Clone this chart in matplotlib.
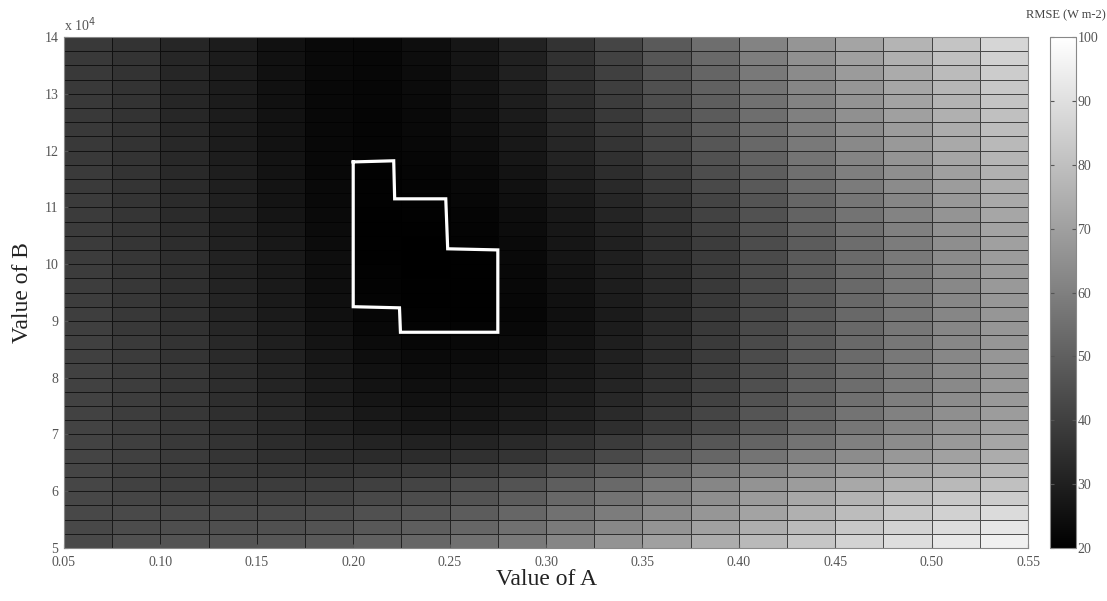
import numpy as np
import matplotlib
matplotlib.use("Agg")
import matplotlib.pyplot as plt

plt.rcParams['font.family'] = ['Liberation Serif', 'DejaVu Serif']

# parameter grid (cell edges)
a_edges = np.arange(0.05, 0.55 + 1e-9, 0.025)
b_edges = np.arange(5.0e4, 14.0e4 + 1, 2500)

# RMSE (W m-2) per cell, rows from B = 5.0e4 (bottom) to 14.0e4 (top)
rmse = np.array([
    [43.0, 45.0, 46.0, 46.5, 47.0, 48.0, 50.0, 52.0, 55.0, 58.0, 62.0, 66.0, 70.0, 74.0, 78.0, 82.0, 86.0, 89.5, 92.5, 95.0],
    [42.8, 44.0, 44.5, 44.8, 45.0, 46.0, 47.5, 49.5, 52.0, 55.0, 58.5, 62.5, 66.5, 70.5, 74.5, 78.5, 82.5, 86.0, 89.0, 92.0],
    [42.5, 43.0, 43.0, 43.0, 43.0, 43.5, 45.0, 46.5, 49.0, 52.0, 55.5, 59.0, 63.0, 67.0, 71.0, 75.0, 79.0, 82.5, 85.5, 88.5],
    [42.2, 41.8, 41.2, 41.0, 40.8, 41.2, 42.5, 44.0, 46.0, 49.0, 52.5, 56.0, 60.0, 64.5, 68.5, 72.5, 76.0, 79.5, 82.5, 84.0],
    [42.0, 40.5, 39.5, 39.0, 38.8, 39.0, 40.0, 41.5, 43.5, 46.0, 49.5, 53.0, 57.5, 62.0, 66.0, 69.0, 72.5, 75.5, 78.0, 80.0],
    [41.8, 40.2, 39.0, 37.8, 36.8, 36.5, 37.0, 38.0, 39.5, 41.8, 45.0, 48.5, 53.0, 57.5, 61.5, 65.0, 68.5, 71.5, 74.0, 77.0],
    [41.5, 40.0, 38.5, 36.8, 35.2, 34.0, 33.5, 34.0, 35.0, 36.5, 39.5, 43.0, 47.5, 52.0, 56.5, 60.5, 64.0, 67.5, 70.5, 74.0],
    [41.2, 39.8, 38.0, 36.0, 34.0, 32.2, 31.0, 30.5, 31.2, 33.0, 35.5, 38.5, 42.5, 47.0, 51.5, 56.0, 60.0, 64.0, 68.0, 72.0],
    [41.0, 39.5, 37.5, 35.0, 33.0, 30.5, 28.5, 27.5, 28.0, 29.5, 31.5, 34.5, 38.5, 43.0, 48.0, 52.5, 57.0, 61.5, 66.0, 70.0],
    [40.9, 39.3, 37.4, 34.8, 32.5, 29.8, 27.6, 26.5, 26.8, 28.2, 30.2, 33.2, 37.2, 41.8, 46.8, 51.5, 56.0, 60.5, 64.8, 69.0],
    [40.8, 39.2, 37.3, 34.5, 32.0, 29.0, 26.8, 25.5, 26.0, 27.3, 29.2, 32.2, 36.2, 40.8, 45.8, 50.5, 55.0, 59.5, 63.8, 68.0],
    [40.6, 39.1, 37.1, 34.2, 31.5, 28.5, 26.2, 24.7, 25.2, 26.4, 28.3, 31.3, 35.3, 39.8, 44.8, 49.7, 54.2, 58.7, 63.0, 67.5],
    [40.5, 39.0, 37.0, 34.0, 31.0, 28.0, 25.5, 24.0, 24.5, 25.5, 27.5, 30.5, 34.5, 39.0, 44.0, 49.0, 53.5, 58.0, 62.5, 67.0],
    [40.2, 38.6, 36.5, 33.4, 30.4, 27.2, 24.6, 23.2, 23.5, 24.6, 26.9, 30.0, 34.0, 38.6, 43.6, 48.6, 53.2, 57.7, 62.3, 67.0],
    [40.0, 38.2, 36.0, 32.8, 29.8, 26.4, 23.6, 22.4, 22.5, 23.6, 26.2, 29.4, 33.5, 38.2, 43.2, 48.2, 53.0, 57.4, 62.2, 67.0],
    [39.8, 37.8, 35.5, 32.1, 29.1, 25.7, 22.8, 21.5, 21.5, 22.8, 25.6, 28.9, 33.0, 37.9, 42.9, 47.9, 52.7, 57.2, 62.1, 67.0],
    [39.5, 37.5, 35.0, 31.5, 28.5, 25.0, 22.0, 20.8, 20.6, 22.0, 25.0, 28.5, 32.5, 37.5, 42.5, 47.5, 52.5, 57.0, 62.0, 67.0],
    [39.3, 37.4, 34.8, 31.3, 28.4, 24.8, 21.5, 20.6, 20.5, 22.2, 25.4, 28.8, 32.8, 37.7, 42.7, 47.7, 52.7, 57.2, 62.3, 67.4],
    [39.1, 37.2, 34.7, 31.1, 28.3, 24.6, 21.1, 20.4, 20.5, 22.5, 25.8, 29.1, 33.1, 37.9, 42.9, 47.9, 52.9, 57.5, 62.7, 67.9],
    [39.0, 37.0, 34.5, 30.9, 28.1, 24.5, 20.8, 20.3, 20.5, 22.7, 26.2, 29.4, 33.4, 38.0, 43.0, 48.0, 53.1, 57.7, 63.1, 68.4],
    [38.8, 36.9, 34.4, 30.7, 28.0, 24.4, 20.5, 20.2, 20.6, 23.0, 26.6, 29.7, 33.8, 38.2, 43.2, 48.2, 53.3, 58.0, 63.5, 69.0],
    [38.7, 36.8, 34.2, 30.5, 27.6, 24.0, 20.4, 20.3, 21.0, 23.4, 27.0, 30.3, 34.5, 39.0, 44.0, 49.0, 54.2, 59.0, 64.5, 70.0],
    [38.6, 36.7, 34.0, 30.3, 27.2, 23.6, 20.5, 20.5, 21.4, 23.9, 27.4, 30.9, 35.2, 39.9, 44.8, 50.0, 55.1, 60.0, 65.5, 71.0],
    [38.5, 36.6, 33.7, 30.2, 26.8, 23.3, 20.6, 20.7, 21.8, 24.3, 27.8, 31.4, 35.8, 40.7, 45.6, 51.0, 56.0, 61.0, 66.5, 72.0],
    [38.5, 36.5, 33.5, 30.0, 26.5, 23.0, 20.8, 20.9, 22.2, 24.8, 28.2, 32.0, 36.5, 41.5, 46.5, 52.0, 57.0, 62.0, 67.5, 73.0],
    [38.4, 36.4, 33.3, 29.7, 26.3, 22.9, 20.9, 21.3, 22.8, 25.5, 29.2, 33.1, 37.7, 42.9, 48.0, 53.5, 58.5, 63.5, 68.9, 74.2],
    [38.2, 36.2, 33.0, 29.5, 26.1, 22.7, 20.9, 21.6, 23.4, 26.2, 30.1, 34.2, 39.0, 44.2, 49.3, 54.8, 59.8, 64.8, 70.2, 75.5],
    [38.1, 36.1, 32.8, 29.2, 26.0, 22.6, 21.3, 22.1, 24.0, 26.9, 31.0, 35.3, 40.2, 45.6, 50.9, 56.4, 61.4, 66.4, 71.6, 76.8],
    [38.0, 36.0, 32.5, 29.0, 25.8, 22.5, 21.6, 22.6, 24.6, 27.6, 32.0, 36.5, 41.5, 47.0, 52.5, 58.0, 63.0, 68.0, 73.0, 78.0],
    [38.0, 36.0, 32.4, 28.9, 25.7, 22.6, 21.7, 22.9, 25.0, 28.1, 32.6, 37.3, 42.4, 47.9, 53.5, 59.0, 64.0, 69.0, 74.0, 79.1],
    [38.0, 36.0, 32.2, 28.9, 25.7, 22.7, 21.8, 23.1, 25.4, 28.6, 33.2, 38.0, 43.2, 48.7, 54.5, 60.0, 65.0, 70.0, 75.0, 80.2],
    [38.0, 36.0, 32.1, 28.8, 25.6, 22.7, 22.0, 23.4, 25.7, 29.1, 33.9, 38.8, 44.1, 49.6, 55.5, 61.0, 66.0, 71.0, 76.0, 81.3],
    [38.0, 36.0, 32.0, 28.8, 25.6, 22.8, 22.1, 23.6, 26.0, 29.6, 34.5, 39.5, 45.0, 50.5, 56.5, 62.0, 67.0, 72.0, 77.0, 82.5],
    [38.0, 36.0, 32.0, 28.8, 25.6, 22.9, 22.2, 23.9, 26.3, 30.0, 35.0, 40.2, 46.0, 51.8, 58.0, 63.5, 68.5, 73.5, 78.5, 84.0],
    [37.9, 36.0, 31.9, 28.8, 25.6, 23.0, 22.4, 24.1, 26.6, 30.3, 35.5, 40.9, 47.1, 53.1, 59.6, 65.1, 70.0, 75.0, 80.0, 85.5],
    [37.9, 36.0, 31.9, 28.8, 25.6, 23.1, 22.5, 24.4, 26.9, 30.7, 36.0, 41.6, 48.2, 54.5, 61.1, 66.7, 71.5, 76.5, 81.5, 87.0],
])

# outline of the best-fit region
region_a = [0.200, 0.221, 0.2215, 0.248, 0.249, 0.275, 0.275, 0.2245, 0.224, 0.200, 0.200]
region_b = [11.80e4, 11.82e4, 11.15e4, 11.15e4, 10.27e4, 10.25e4, 8.80e4, 8.80e4, 9.23e4, 9.25e4, 11.80e4]

x_ticks = [0.05, 0.10, 0.15, 0.20, 0.25, 0.30, 0.35, 0.40, 0.45, 0.50, 0.55]
y_ticks = [5e4, 6e4, 7e4, 8e4, 9e4, 10e4, 11e4, 12e4, 13e4, 14e4]
cb_ticks = [20, 30, 40, 50, 60, 70, 80, 90, 100]

fig = plt.figure(figsize=(11.07, 6.01), dpi=100)
ax = fig.add_axes([0.0578, 0.0882, 0.8709, 0.8502])
cax = fig.add_axes([0.9485, 0.0882, 0.0235, 0.8502])

mesh = ax.pcolormesh(a_edges, b_edges, rmse, cmap='gray', vmin=20, vmax=100,
                     edgecolors=(0, 0, 0, 0.65), linewidth=0.7)
ax.plot(region_a, region_b, color='white', lw=2.3, solid_joinstyle='miter')

ax.set_xlim(0.05, 0.55)
ax.set_ylim(5e4, 14e4)
ax.set_xticks(x_ticks)
ax.set_xticklabels(['%.2f' % v for v in x_ticks])
ax.set_yticks(y_ticks)
ax.set_yticklabels(['%d' % (v / 1e4) for v in y_ticks])
ax.tick_params(direction='in', length=3, labelsize=10, colors='#555555',
               top=False, right=False)
ax.tick_params(axis='x', pad=6)
ax.tick_params(axis='y', pad=4)
for s in ax.spines.values():
    s.set_color('#888888')
    s.set_linewidth(0.8)
ax.text(0.0, 1.005, r'x 10$^4$', transform=ax.transAxes, fontsize=10,
        color='#555555', ha='left', va='bottom')

ax.set_xlabel('Value of A', fontsize=17, color='#222222', labelpad=0)
ax.set_ylabel('Value of B', fontsize=17, color='#222222', labelpad=8)

cb = fig.colorbar(mesh, cax=cax, ticks=cb_ticks)
cb.outline.set_edgecolor('#888888')
cb.ax.tick_params(direction='in', length=3, labelsize=10, colors='#555555',
                  left=True, right=True, pad=1)
cb.ax.text(0.6, 1.03, 'RMSE (W m-2)', transform=cb.ax.transAxes, fontsize=9,
           color='#444444', ha='center', va='bottom')

fig.savefig('out.png', dpi=100)
